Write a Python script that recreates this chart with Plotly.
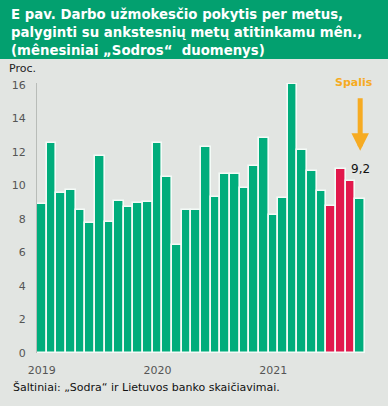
import plotly.graph_objects as go

months = [f"{y}-{m:02d}" for y in (2019, 2020, 2021) for m in range(1, 13)][:34]
values = [8.9, 12.5, 9.55, 9.7, 8.5, 7.75, 11.75, 7.8, 9.05, 8.7, 8.95, 9.0,
          12.5, 10.5, 6.45, 8.55, 8.55, 12.3, 9.3, 10.7, 10.7, 9.85, 11.15, 12.8,
          8.25, 9.25, 16.05, 12.1, 10.85, 9.65, 8.75, 11.0, 10.25, 9.2]
highlight = {"2021-07", "2021-08", "2021-09"}
tick_vals = ["2019-01", "2020-01", "2021-01"]
tick_text = ["2019", "2020", "2021"]
y_ticks = [0, 2, 4, 6, 8, 10, 12, 14, 16]
title_lines = ["E pav. Darbo užmokesčio pokytis per metus,",
               "palyginti su ankstesnių metų atitinkamu mên.,",
               "(mênesiniai „Sodros“  duomenys)"]

GREEN = "#00ad7c"
RED = "#e2184c"
BG = "#e2e5e2"
BAND = "#03a06f"
ORANGE = "#f6ab22"
FONT = "DejaVu Sans"

colors = [RED if m in highlight else GREEN for m in months]

fig = go.Figure(go.Bar(
    x=months, y=values, marker=dict(color=colors, line=dict(color="#f4fbf7", width=1.6)),
    hoverinfo="x+y",
))

W, H = 388, 406
L, R, T, B = 37, 23, 83, 53
pw, ph = W - L - R, H - T - B

def px_to_paper_y(p):
    return (H - B - p) / ph

def px_to_paper_x(p):
    return (p - L) / pw

title_ann = [
    dict(xref="paper", yref="paper", x=px_to_paper_x(9), y=px_to_paper_y(yc),
         xanchor="left", yanchor="middle", align="left", showarrow=False,
         text=line, font=dict(family=FONT, size=13.3, color="white", weight="bold"))
    for line, yc in zip(title_lines, [14.5, 32.5, 50.5])
]

fig.update_layout(
    width=W, height=H,
    margin=dict(l=L, r=R, t=T, b=B, pad=0),
    paper_bgcolor=BG, plot_bgcolor=BG,
    bargap=0,
    showlegend=False,
    font=dict(family=FONT, size=11, color="#555555"),
    xaxis=dict(type="category", range=[-0.5, len(months) - 0.5],
               tickmode="array", tickvals=tick_vals, ticktext=tick_text,
               showgrid=False, zeroline=False, showline=False, ticks="",
               ticklabelstandoff=9,
               tickfont=dict(size=11, color="#555555")),
    yaxis=dict(range=[0, 16.1], tickmode="array", tickvals=y_ticks,
               showgrid=False, zeroline=False, showline=True, linecolor="#b8bcb8",
               linewidth=1, ticks="", ticklabelstandoff=8,
               tickfont=dict(size=11, color="#555555")),
    shapes=[
        dict(type="rect", xref="paper", yref="paper",
             x0=px_to_paper_x(0), x1=px_to_paper_x(W),
             y0=px_to_paper_y(59), y1=px_to_paper_y(0),
             fillcolor=BAND, line=dict(width=0), layer="below"),
    ],
    annotations=title_ann + [
        dict(xref="paper", yref="paper", x=px_to_paper_x(7), y=px_to_paper_y(68),
             xanchor="left", yanchor="middle", showarrow=False, text="Proc.",
             font=dict(family=FONT, size=11, color="#222222")),
        dict(xref="paper", yref="paper", x=px_to_paper_x(11), y=px_to_paper_y(387),
             xanchor="left", yanchor="middle", showarrow=False,
             text="Šaltiniai: „Sodra“ ir Lietuvos banko skaičiavimai.",
             font=dict(family=FONT, size=11, color="#111111")),
        dict(x=months[-1], y=values[-1], xref="x", yref="y", showarrow=False,
             text=f"{values[-1]:.1f}".replace(".", ","), yshift=30,
             font=dict(family=FONT, size=12, color="#111111")),
        dict(x=months[-1], y=values[-1], xref="x", yref="y", showarrow=True,
             text="", ax=0, ay=-54, yshift=48, arrowhead=2, arrowsize=0.7,
             arrowwidth=5, arrowcolor=ORANGE),
        dict(x=months[-1], y=values[-1], xref="x", yref="y", showarrow=False,
             text="Spalis", yshift=116, xshift=-6,
             font=dict(family=FONT, size=11, color=ORANGE, weight="bold")),
    ],
)

fig.write_html("out.html", config={"displayModeBar": False},
               post_script="document.body.style.margin='0';")
